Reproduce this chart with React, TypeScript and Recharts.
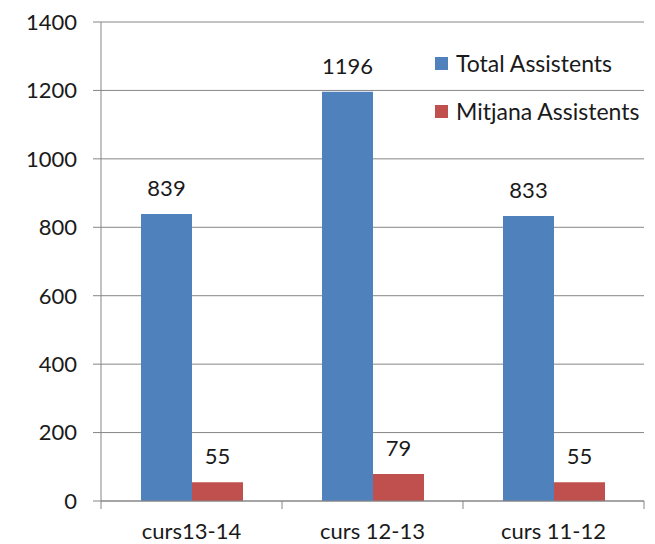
import { Bar, BarChart, CartesianGrid, LabelList, XAxis, YAxis } from 'recharts'

const categories = ['curs13-14', 'curs 12-13', 'curs 11-12']
const totalAssistents = [839, 1196, 833]
const mitjanaAssistents = [55, 79, 55]
const yTicks = [0, 200, 400, 600, 800, 1000, 1200, 1400]
const seriesNames = ['Total Assistents', 'Mitjana Assistents']
const seriesColors = ['#4F81BD', '#C0504D']

const data = categories.map((name, i) => ({
  name,
  total: totalAssistents[i],
  mitjana: mitjanaAssistents[i],
}))

const W = 655
const H = 544
const margin = { top: 22, right: 11, bottom: 13, left: 0 }
const yAxisWidth = 101
const band = (W - margin.right - yAxisWidth) / categories.length
const axisColor = '#868686'
const font = 'Lato, "Open Sans", sans-serif'

const CategoryTick = ({ x, y, payload, index }: any) => (
  <g>
    <line x1={x + band / 2} y1={y - 8} x2={x + band / 2} y2={y} stroke={axisColor} />
    {index === 0 ? <line x1={x - band / 2} y1={y - 8} x2={x - band / 2} y2={y} stroke={axisColor} /> : null}
    <text x={x} y={y + 30} textAnchor="middle" fill="#1a1a1a" fontSize={22} fontFamily={font}>
      {payload.value}
    </text>
  </g>
)

export default function App() {
  return (
    <div style={{ position: 'absolute', left: 0, top: 0, width: W, height: H, background: '#fff' }}>
      <BarChart width={W} height={H} data={data} margin={margin} barGap={0}>
        <CartesianGrid vertical={false} stroke={axisColor} />
        <XAxis dataKey="name" height={30} tickLine={false} stroke={axisColor} tick={<CategoryTick />} interval={0} />
        <YAxis
          width={yAxisWidth}
          domain={[0, 1400]}
          ticks={yTicks}
          stroke={axisColor}
          tickSize={8}
          tickMargin={16}
          tick={{ fill: '#1a1a1a', fontSize: 22, fontFamily: font }}
        />
        <Bar dataKey="total" name={seriesNames[0]} fill={seriesColors[0]} barSize={51} isAnimationActive={false}>
          <LabelList dataKey="total" position="top" offset={18} fill="#1a1a1a" fontSize={22} fontFamily={font} />
        </Bar>
        <Bar dataKey="mitjana" name={seriesNames[1]} fill={seriesColors[1]} barSize={51} isAnimationActive={false}>
          <LabelList dataKey="mitjana" position="top" offset={18} fill="#1a1a1a" fontSize={22} fontFamily={font} />
        </Bar>
      </BarChart>
      <div style={{ position: 'absolute', left: 435, top: 39, fontFamily: font, fontSize: 23, color: '#1a1a1a' }}>
        {seriesNames.map((n, i) => (
          <div key={n} style={{ display: 'flex', alignItems: 'center', height: 48, whiteSpace: 'nowrap' }}>
            <span style={{ width: 13, height: 13, background: seriesColors[i], marginRight: 8, display: 'inline-block' }} />
            {n}
          </div>
        ))}
      </div>
    </div>
  )
}
